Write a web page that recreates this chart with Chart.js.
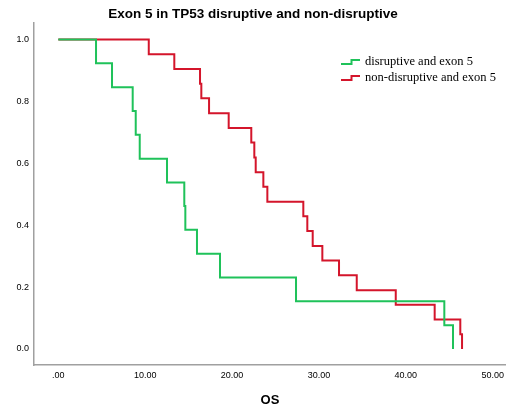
<!DOCTYPE html>
<html>
<head>
<meta charset="utf-8">
<script src="https://cdn.jsdelivr.net/npm/chart.js@4/dist/chart.umd.min.js"></script>
<style>
  html, body { margin: 0; padding: 0; background: #fff; }
  canvas { display: block; }
</style>
</head>
<body>
<canvas id="kmChart" width="506" height="408"></canvas>
<script>
// Kaplan-Meier steps
const disruptiveTimes = [0, 4.34, 6.18, 8.56, 8.91, 9.37, 12.51, 14.50, 14.62, 15.96, 18.61, 27.36, 44.43, 45.43];
const disruptiveSurv  = [1, 0.923, 0.846, 0.769, 0.692, 0.615, 0.538, 0.462, 0.385, 0.308, 0.231, 0.154, 0.077, 0];

const nonDisruptiveTimes = [0, 10.41, 13.35, 16.31, 16.46, 17.35, 19.61, 22.21, 22.56, 22.72, 23.60, 24.06,
                            28.20, 28.66, 29.28, 30.39, 32.31, 34.35, 38.84, 43.32, 46.27, 46.47];
const nonDisruptiveSurv  = [1, 0.952, 0.905, 0.857, 0.810, 0.762, 0.714, 0.667, 0.619, 0.571, 0.524, 0.476,
                            0.429, 0.381, 0.333, 0.286, 0.238, 0.190, 0.143, 0.095, 0.048, 0];

const seriesNames = ['disruptive and exon 5', 'non-disruptive and exon 5'];
const seriesColors = ['#1fc25a', '#d4152b'];

const xTickValues = [0, 10, 20, 30, 40, 50];
const xTickLabels = ['.00', '10.00', '20.00', '30.00', '40.00', '50.00'];
const yTickValues = [0, 0.2, 0.4, 0.6, 0.8, 1.0];
const yTickLabels = ['0.0', '0.2', '0.4', '0.6', '0.8', '1.0'];

const sans = "'Liberation Sans', Arial, sans-serif";
const serif = "'Liberation Serif', 'Times New Roman', serif";
const axisGray = '#a0a0a0';

function toPoints(times, surv) {
    return times.map((t, i) => ({ x: t, y: surv[i] }));
}

// legend in the top right, with the little step glyph SPSS uses
const stepLegend = {
    id: 'stepLegend',
    afterDraw(chart) {
        const ctx = chart.ctx;
        ctx.save();
        seriesNames.forEach((name, i) => {
            const cy = 62 + i * 16;
            ctx.strokeStyle = seriesColors[i];
            ctx.lineWidth = 2;
            ctx.beginPath();
            ctx.moveTo(341, cy + 2);
            ctx.lineTo(351.5, cy + 2);
            ctx.lineTo(351.5, cy - 2);
            ctx.lineTo(360, cy - 2);
            ctx.stroke();
            ctx.fillStyle = '#000';
            ctx.font = '12.5px ' + serif;
            ctx.textBaseline = 'middle';
            ctx.textAlign = 'left';
            ctx.fillText(name, 365, cy);
        });
        ctx.restore();
    }
};

const ctx = document.getElementById('kmChart').getContext('2d');
new Chart(ctx, {
    type: 'line',
    data: {
        datasets: [
            {
                label: seriesNames[0],
                data: toPoints(disruptiveTimes, disruptiveSurv),
                borderColor: seriesColors[0],
                borderWidth: 2,
                stepped: 'before',
                pointRadius: 0,
                fill: false
            },
            {
                label: seriesNames[1],
                data: toPoints(nonDisruptiveTimes, nonDisruptiveSurv),
                borderColor: seriesColors[1],
                borderWidth: 2,
                stepped: 'before',
                pointRadius: 0,
                fill: false
            }
        ]
    },
    options: {
        responsive: false,
        animation: false,
        devicePixelRatio: 1,
        layout: { padding: 0 },
        plugins: {
            legend: { display: false },
            tooltip: { enabled: false },
            title: {
                display: true,
                text: 'Exon 5 in TP53 disruptive and non-disruptive',
                color: '#000',
                font: { family: sans, size: 13.5, weight: 'bold', lineHeight: 1.2 },
                padding: { top: 6.4, bottom: 0.4 }
            }
        },
        scales: {
            x: {
                type: 'linear',
                min: -2.8,
                max: 51.53,
                grid: { display: false, drawTicks: false },
                border: { display: true, color: axisGray, width: 1.5 },
                afterBuildTicks: (scale) => {
                    scale.ticks = xTickValues.map(v => ({ value: v }));
                },
                afterFit: (scale) => {
                    scale.height = 43;
                    scale.paddingLeft = 0;
                    scale.paddingRight = 0;
                },
                ticks: {
                    color: '#000',
                    font: { family: sans, size: 9 },
                    padding: 5,
                    maxRotation: 0,
                    autoSkip: false,
                    callback: (value, index) => xTickLabels[index]
                },
                title: {
                    display: true,
                    text: 'OS',
                    color: '#000',
                    font: { family: sans, size: 13, weight: 'bold', lineHeight: 1 },
                    padding: { top: 0, bottom: 1 }
                }
            },
            y: {
                type: 'linear',
                min: -0.0517,
                max: 1.0533,
                grid: { display: false, drawTicks: false },
                border: { display: true, color: axisGray, width: 1.5 },
                afterBuildTicks: (scale) => {
                    scale.ticks = yTickValues.map(v => ({ value: v }));
                },
                afterFit: (scale) => {
                    scale.width = 34;
                    scale.paddingTop = 0;
                    scale.paddingBottom = 0;
                },
                ticks: {
                    color: '#000',
                    font: { family: sans, size: 9 },
                    padding: 5,
                    autoSkip: false,
                    callback: (value, index) => yTickLabels[index]
                }
            }
        }
    },
    plugins: [stepLegend]
});
</script>
</body>
</html>
